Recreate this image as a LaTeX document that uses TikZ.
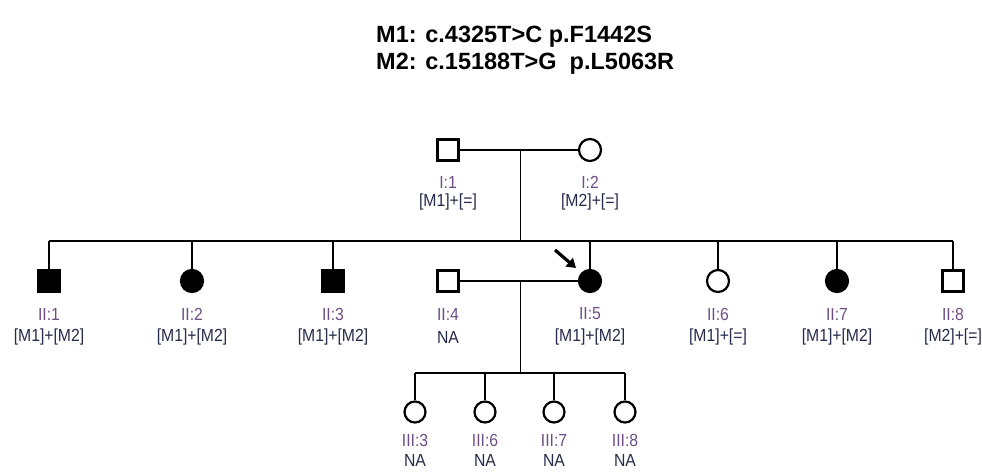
\documentclass[tikz,border=0pt]{standalone}
\usepackage{fontspec}
\setmainfont{Liberation Sans}
\newfontfamily\narrowfont[FakeStretch=0.9]{Liberation Sans}
\usetikzlibrary{arrows.meta}
\definecolor{idcol}{HTML}{6E4E84}
\definecolor{gtcol}{HTML}{262B4A}
\tikzset{
  male/.style={draw=black, line width=2.6pt, minimum size=21pt, inner sep=0pt, rectangle},
  female/.style={draw=black, line width=2.2pt, minimum size=22pt, inner sep=0pt, circle},
  aff/.style={fill=black},
  unaff/.style={fill=white},
  link/.style={line width=1.8pt, black},
  idlab/.style={text=idcol, font=\narrowfont\fontsize{17.5}{19}\selectfont, inner sep=0pt},
  gtlab/.style={text=gtcol, font=\narrowfont\fontsize{17.5}{19}\selectfont, inner sep=0pt},
  title/.style={font=\fontsize{23.5}{27}\selectfont\bfseries, inner sep=0pt, align=left}
}
\begin{document}
\begin{tikzpicture}[x=1pt, y=-1pt]
\useasboundingbox (0,0) rectangle (982,473);
% title
\node[title, anchor=base west] (t1) at (376,43) {M1: c.4325T>C p.F1442S};
\node[title, anchor=base west] (t2) at (376,70) {M2: c.15188T>G~ p.L5063R};
% generation I
\node[male, unaff] (I1) at (448,150) {};
\node[female, unaff] (I2) at (590,150) {};
\coordinate (mI) at (520.5,150);
\coordinate (sII) at (520.5,241);
\draw[link] (I1) -- (I2);
\draw[link] (mI) -- (sII);
\node[idlab] (I1id) at (448,182) {I:1};
\node[gtlab] (I1gt) at (448,202) {[M1]+[=]};
\node[idlab] (I2id) at (590,182) {I:2};
\node[gtlab] (I2gt) at (590,202) {[M2]+[=]};
% generation II
\node[male, aff] (II1) at (49,281) {};
\node[female, aff] (II2) at (192,281) {};
\node[male, aff] (II3) at (333,281) {};
\node[male, unaff] (II4) at (448,281) {};
\node[female, aff] (II5) at (590,281) {};
\node[female, unaff] (II6) at (718,281) {};
\node[female, aff] (II7) at (837,281) {};
\node[male, unaff] (II8) at (953,281) {};
\coordinate (sL) at (49,241);
\coordinate (sR) at (953,241);
\draw[link] (sL) -- (sR);
\foreach \n in {II1,II2,II3,II5,II6,II7,II8}
  \draw[link] (\n.north |- sL) -- (\n.north);
\draw[link] (II4) -- (II5);
\coordinate (mII) at (520.5,281);
\coordinate (sIII) at (520.5,373);
\draw[link] (mII) -- (sIII);
% proband arrow
\coordinate (pa1) at (555,250);
\coordinate (pa2) at (576,268);
\draw[line width=3.2pt, -{Triangle[length=9pt,width=11pt]}] (pa1) -- (pa2);
% labels gen II
\foreach \n/\i/\g in {II1/II:1/[M1]+[M2], II2/II:2/[M1]+[M2], II3/II:3/[M1]+[M2], II4/II:4/NA, II5/II:5/[M1]+[M2], II6/II:6/[M1]+[=], II7/II:7/[M1]+[M2], II8/II:8/[M2]+[=]}{
  \node[idlab] (\n id) at ([yshift=-33pt]\n.center) {\i};
  \node[gtlab] (\n gt) at ([yshift=-56pt]\n.center) {\g};
}
% generation III
\node[female, unaff, minimum size=21pt] (III3) at (415,412) {};
\node[female, unaff, minimum size=21pt] (III6) at (485,412) {};
\node[female, unaff, minimum size=21pt] (III7) at (554,412) {};
\node[female, unaff, minimum size=21pt] (III8) at (625,412) {};
\coordinate (tL) at (415,373);
\coordinate (tR) at (625,373);
\draw[link] (tL) -- (tR);
\foreach \n/\i in {III3/III:3, III6/III:6, III7/III:7, III8/III:8}{
  \draw[link] (\n.north |- tL) -- (\n.north);
  \node[idlab] (\n id) at ([yshift=-28pt]\n.center) {\i};
  \node[gtlab] (\n gt) at ([yshift=-48pt]\n.center) {NA};
}
\end{tikzpicture}
\end{document}
